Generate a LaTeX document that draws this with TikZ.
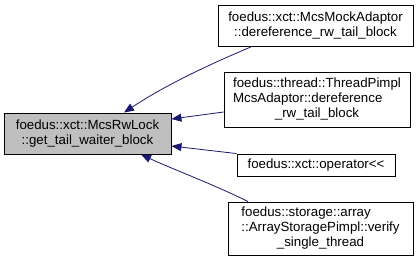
\documentclass[tikz,border=0pt]{standalone}
\usepackage{fontspec}
\setmainfont{Liberation Sans}
\usetikzlibrary{arrows.meta}
\definecolor{edgeblue}{HTML}{191970}
\definecolor{focusgray}{HTML}{BFBFBF}
\tikzset{
  box/.style={draw=black, line width=0.9pt, fill=white, inner sep=0pt, anchor=center,
    font=\fontsize{13.3}{14.6}\selectfont, align=center},
  focus/.style={box, fill=focusgray},
  calledge/.style={draw=edgeblue, line width=0.8pt,
    -{Triangle[length=10pt,width=8pt,fill=edgeblue]}},
}
\newcommand{\ltab}[1]{\begin{tabular}{@{}l@{}}#1\end{tabular}}
\begin{document}
\begin{tikzpicture}[x=1pt,y=-1pt]
\useasboundingbox (0,0) rectangle (420,263);
\node[focus, minimum width=167pt, minimum height=41pt] (lock) at (87.5,133.5)
  {foedus::xct::McsRwLock\\::get\_tail\_waiter\_block};
\node[box, minimum width=195pt, minimum height=41pt] (mock) at (315.5,25.5)
  {foedus::xct::McsMockAdaptor\\::dereference\_rw\_tail\_block};
\node[box, minimum width=186pt, minimum height=55pt] (pimpl) at (317,99.5)
  {\ltab{foedus::thread::ThreadPimpl\\McsAdaptor::dereference\\\multicolumn{1}{@{}c@{}}{\_rw\_tail\_block}}};
\node[box, minimum width=158pt, minimum height=22pt] (oper) at (316,165)
  {foedus::xct::operator<{}<};
\node[box, minimum width=185pt, minimum height=53pt] (verify) at (320.5,228.5)
  {\ltab{foedus::storage::array\\::ArrayStoragePimpl::verify\\\multicolumn{1}{@{}c@{}}{\_single\_thread}}};
% callers point back to the callee
\draw[calledge] ([xshift=-63.5pt]mock.south) .. controls (220,60) and (170,82) .. ([xshift=36.5pt]lock.north);
\draw[calledge] ([yshift=-12.5pt]pimpl.west) -- ([yshift=14.5pt]lock.east);
\draw[calledge] (oper.north west) -- ([yshift=-12.5pt]lock.east);
\draw[calledge] ([xshift=-72.5pt]verify.north) .. controls (215,185) and (170,168) .. ([xshift=53.5pt]lock.south);
\end{tikzpicture}
\end{document}
